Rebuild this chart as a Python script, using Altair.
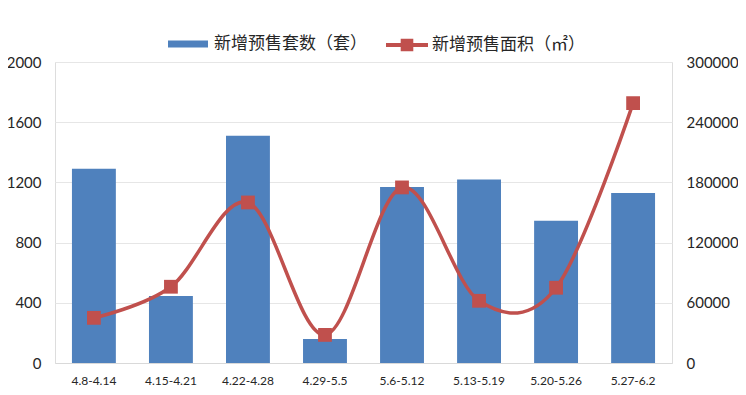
import altair as alt
import pandas as pd

weeks = ["4.8-4.14", "4.15-4.21", "4.22-4.28", "4.29-5.5", "5.6-5.12", "5.13-5.19", "5.20-5.26", "5.27-6.2"]
units = [1290, 445, 1510, 160, 1170, 1220, 945, 1130]
area = [45000, 76000, 160000, 28000, 175000, 62000, 75000, 259000]

bar_name = "新增预售套数（套）"
line_name = "新增预售面积（㎡）"

df = pd.DataFrame({"week": weeks, "units": units, "area": area,
                   "s1": [bar_name] * len(weeks), "s2": [line_name] * len(weeks)})

BLUE = "#4F81BD"
RED = "#C0504D"
TXT = "#262626"
FONT = "Lato"
CJK = "Noto Sans CJK SC"

x = alt.X("week:N", sort=weeks, title=None,
          scale=alt.Scale(paddingInner=0.43, paddingOuter=0.22),
          axis=alt.Axis(labelAngle=0, ticks=False, domainColor="#D9D9D9", labelPadding=12,
                        labelFontSize=12, labelColor=TXT, labelFont=FONT, grid=False))

bars = alt.Chart(df).mark_bar(color=BLUE).encode(
    x=x,
    y=alt.Y("units:Q", title=None,
            scale=alt.Scale(domain=[0, 2000]),
            axis=alt.Axis(values=[0, 400, 800, 1200, 1600, 2000], ticks=False, domain=False,
                          gridColor="#E6E6E6", labelPadding=14, labelFontSize=15,
                          labelColor=TXT, labelFont=FONT, orient="left", format="d")),
    color=alt.Color("s1:N", scale=alt.Scale(domain=[bar_name], range=[BLUE]),
                    legend=alt.Legend(title=None, orient="none", legendX=113, legendY=-38,
                                      symbolType="M-1,-0.18H1V0.18H-1Z", symbolSize=1600,
                                      symbolStrokeWidth=0, labelFontSize=17, labelFont=CJK,
                                      labelColor=TXT, labelOffset=6)),
)

yr = alt.Y("area:Q", title=None, scale=alt.Scale(domain=[0, 300000]),
           axis=alt.Axis(values=[0, 60000, 120000, 180000, 240000, 300000], ticks=False,
                         domain=False, grid=False, labelPadding=14, labelFontSize=15,
                         labelColor=TXT, labelFont=FONT, orient="right", format="d"))

col2 = alt.Color("s2:N", scale=alt.Scale(domain=[line_name], range=[RED]),
                 legend=alt.Legend(title=None, orient="none", legendX=331, legendY=-38,
                                   symbolType="M-1,-0.1H1V0.1H-1Z M-0.3,-0.3H0.3V0.3H-0.3Z",
                                   symbolSize=1764, symbolFillColor=RED, symbolStrokeWidth=0,
                                   labelFontSize=17, labelFont=CJK, labelColor=TXT,
                                   labelOffset=4))

line = alt.Chart(df).mark_line(interpolate="cardinal", strokeWidth=3.5).encode(
    x=alt.X("week:N", sort=weeks), y=yr, color=col2)
pts = alt.Chart(df).mark_square(size=190, opacity=1, filled=True).encode(
    x=alt.X("week:N", sort=weeks), y=yr, color=col2)

right = alt.layer(line, pts)

chart = alt.layer(bars, right).resolve_scale(y="independent", color="independent").properties(
    width=617, height=301,
    autosize=alt.AutoSizeParams(type="none"),
    padding={"left": 47, "top": 54, "right": 66, "bottom": 24},
).configure_view(stroke="#E6E6E6").configure(background="white")

chart.save("out.html", embed_options={"renderer": "svg", "actions": False})
